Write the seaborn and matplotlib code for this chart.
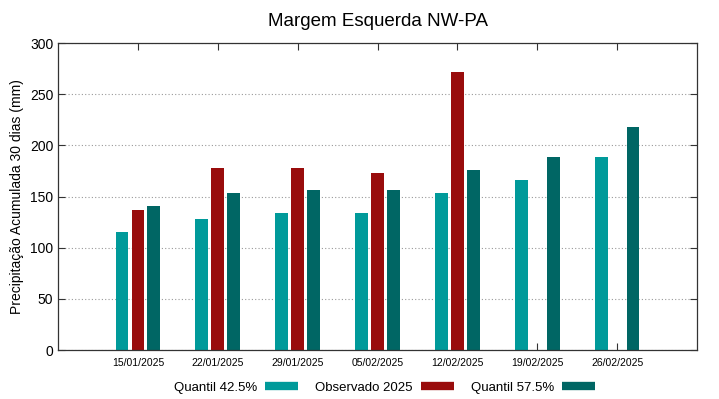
import numpy as np
import pandas as pd
import matplotlib
matplotlib.use('agg')
import matplotlib.pyplot as plt
import seaborn as sns
from matplotlib.lines import Line2D

dates = ["15/01/2025", "22/01/2025", "29/01/2025", "05/02/2025",
         "12/02/2025", "19/02/2025", "26/02/2025"]
q425 = [115, 128, 134, 134, 153, 166, 189]
obs2025 = [137, 178, 178, 173, 272, np.nan, np.nan]
q575 = [141, 153, 156, 156, 176, 189, 218]

series = ["Quantil 42.5%", "Observado 2025", "Quantil 57.5%"]
colors = ["#009a9a", "#990c0c", "#006664"]

df = pd.DataFrame({
    "data": dates * 3,
    "valor": q425 + obs2025 + q575,
    "serie": [s for s in series for _ in dates],
})

sns.set_style("ticks")
plt.rcParams['font.family'] = ['Liberation Sans', 'DejaVu Sans']
plt.rcParams['text.color'] = 'black'
plt.rcParams['axes.labelcolor'] = 'black'
plt.rcParams['xtick.labelcolor'] = 'black'
plt.rcParams['ytick.labelcolor'] = 'black'

fig = plt.figure(figsize=(7.19, 3.99), dpi=100)
ax = fig.add_axes([0.0807, 0.1228, 0.8887, 0.7692])

sns.barplot(data=df, x="data", y="valor", hue="serie", hue_order=series,
            palette=colors, width=0.6, gap=0.2, saturation=1, ax=ax,
            legend=False, edgecolor="none")

ax.set_xlim(-1, 7)
ax.set_ylim(0, 300)
ax.set_yticks(range(0, 301, 50))
ax.yaxis.grid(True, linestyle=(0, (1, 2)), color="#999999", linewidth=0.8)
ax.set_axisbelow(True)
ax.tick_params(axis="both", direction="in", top=True, right=True, length=5,
               width=0.8, color="#333333")
ax.tick_params(axis="x", labelsize=7.5, pad=6)
ax.tick_params(axis="y", labelsize=10)
for sp in ax.spines.values():
    sp.set_visible(True)
    sp.set_color("#333333")
    sp.set_linewidth(0.9)

ax.set_xlabel("")
ax.set_ylabel("Precipitação Acumulada 30 dias (mm)", fontsize=10)
ax.set_title("Margem Esquerda NW-PA", fontsize=13.5, pad=12, color="black")

handles = [Line2D([0], [0], color=c, linewidth=6, solid_capstyle="butt")
           for c in colors]
fig.legend(handles, series, loc="center", bbox_to_anchor=(0.535, 0.028),
           ncol=3, frameon=False, markerfirst=False, fontsize=9.5,
           handlelength=2.5, columnspacing=1.3, handletextpad=0.6)

fig.savefig("out.png", dpi=100)
